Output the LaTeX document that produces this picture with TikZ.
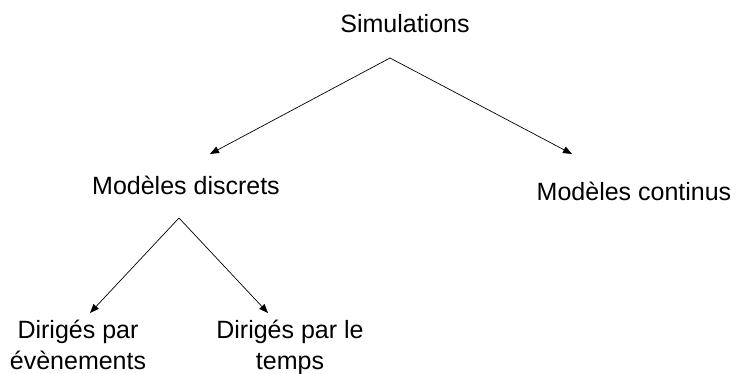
\documentclass[tikz,border=0pt]{standalone}
\usepackage{fontspec}
\setmainfont{Liberation Sans}
\usetikzlibrary{arrows.meta}
\tikzset{
	lbl/.style={inner sep=0pt, anchor=base, align=center, font=\fontsize{25}{31}\selectfont},
	arr/.style={draw, line width=0.7pt, -{Triangle[length=9pt,width=7pt]}}
}
\begin{document}
\begin{tikzpicture}[x=1pt,y=1pt]
		\useasboundingbox (0,0) rectangle (736,374);
		\node (sim) [lbl] at (405,341) {Simulations};
		\node (disc) [lbl] at (186,179) {Modèles discrets};
		\node (cont) [lbl] at (634,173) {Modèles continus};
		\node (ev) [lbl] at (78,4) {Dirigés par\\évènements};
		\node (tmp) [lbl] at (290,4) {Dirigés par le\\temps};
		\coordinate (simfork) at (390,316);
		\coordinate (discend) at (210,220);
		\coordinate (contend) at (572,220);
		\coordinate (discfork) at (179,156);
		\coordinate (evend) at (90,61);
		\coordinate (tmpend) at (268,61);
		\draw [arr] (simfork) -- (discend);
		\draw [arr] (simfork) -- (contend);
		\draw [arr] (discfork) -- (evend);
		\draw [arr] (discfork) -- (tmpend);
	\end{tikzpicture}
\end{document}
